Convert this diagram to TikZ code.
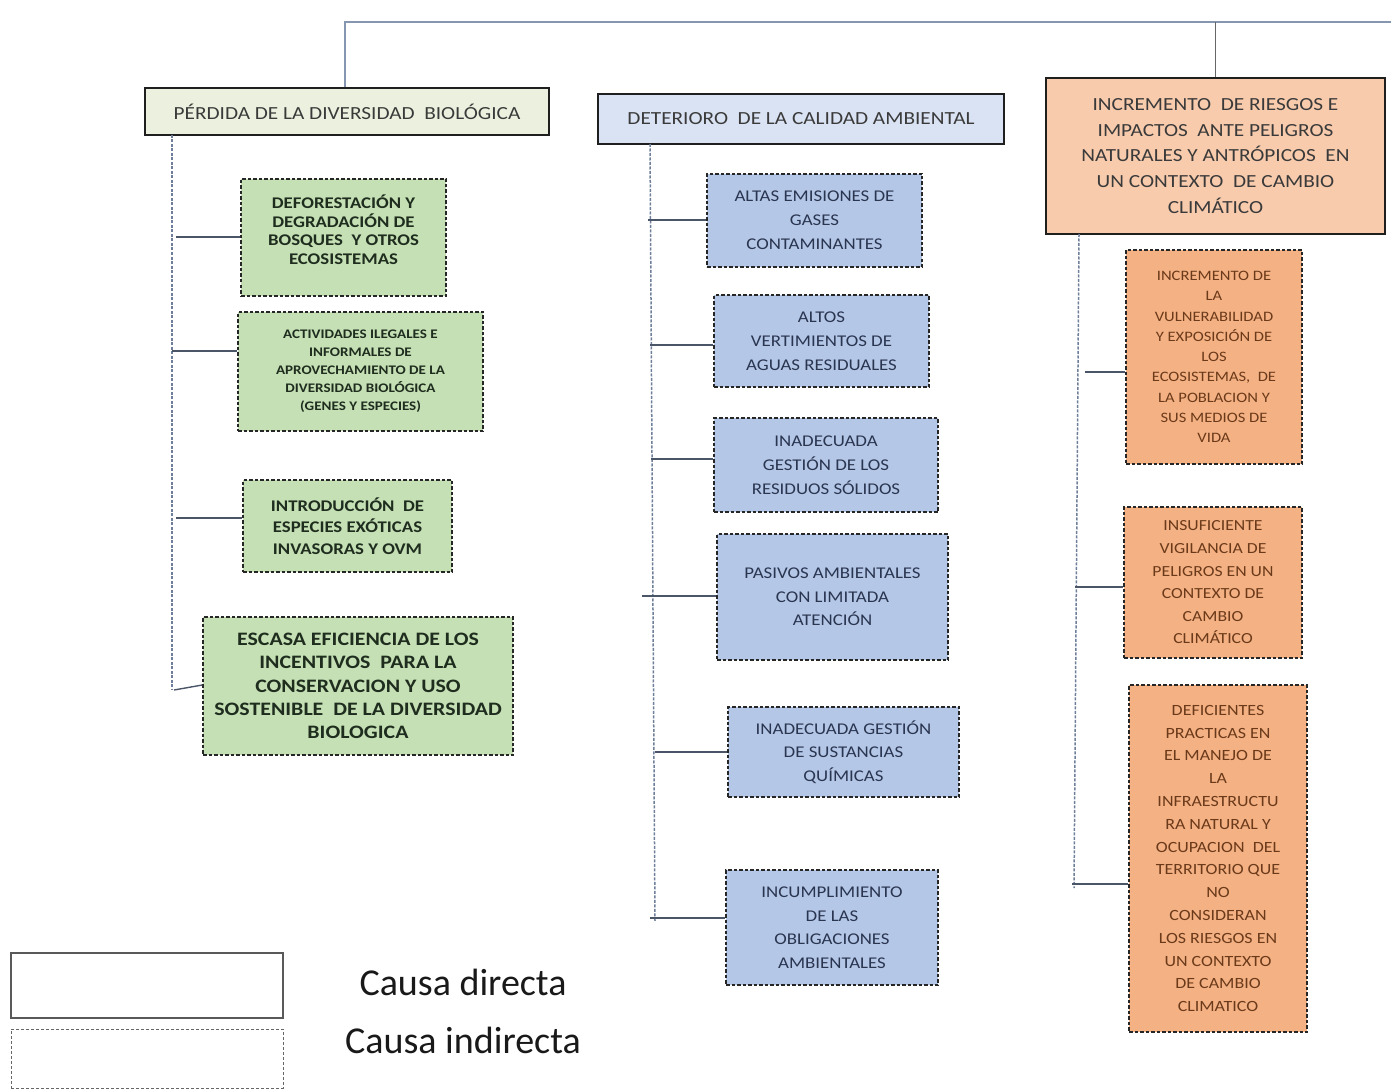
\documentclass[tikz,border=0pt]{standalone}
\usepackage{fontspec}
\usetikzlibrary{calc}
\setmainfont{Carlito}
\newfontfamily\boxfont{Carlito}[FakeStretch=1.15]
\definecolor{gHead}{HTML}{EBF1DE}
\definecolor{gFill}{HTML}{C5E0B4}
\definecolor{gText}{HTML}{1F2D1F}
\definecolor{bHead}{HTML}{DAE3F3}
\definecolor{bFill}{HTML}{B4C7E7}
\definecolor{bText}{HTML}{2A3550}
\definecolor{oHead}{HTML}{F8CBAD}
\definecolor{oFill}{HTML}{F4B183}
\definecolor{oText}{HTML}{6B3A1A}
\definecolor{hText}{HTML}{3A3A3A}
\definecolor{topLine}{HTML}{8496B0}
\definecolor{brLine}{HTML}{4A5568}
\definecolor{spLine}{HTML}{6F7F99}
\tikzset{
  headbox/.style={rectangle, draw=black!88, line width=1.8pt, inner sep=0pt, align=center},
  causebox/.style={rectangle, draw=black!85, line width=1.4pt, dash pattern=on 3.5pt off 2pt, inner sep=0pt, align=center},
  legsolid/.style={rectangle, draw=black!65, line width=1.2pt, inner sep=0pt},
  legdash/.style={rectangle, draw=black!60, line width=1pt, dash pattern=on 3pt off 2pt, inner sep=0pt},
  topwire/.style={draw=topLine, line width=1.8pt},
  upwire/.style={draw=black!60, line width=1.4pt},
  branch/.style={draw=brLine, line width=1.4pt},
  spine/.style={draw=spLine, line width=1.5pt, dash pattern=on 3pt off 1.5pt},
  legtext/.style={font=\fontsize{38}{42}\selectfont, text=black!90, inner sep=0pt}
}
\begin{document}
\begin{tikzpicture}[x=1pt,y=-1pt]
\useasboundingbox (0,0) rectangle (1391,1091);

% ---------- heads ----------
\node[headbox, fill=gHead, text=hText, minimum width=404pt, minimum height=47pt,
  font={\boxfont\fontsize{18.5}{24}\selectfont}] (p1) at (347,111.5)
  {PÉRDIDA DE LA DIVERSIDAD~~BIOLÓGICA};
\node[headbox, fill=bHead, text=hText, minimum width=406pt, minimum height=50pt,
  font={\boxfont\fontsize{18.5}{24}\selectfont}] (p2) at (801,119)
  {DETERIORO~~DE LA CALIDAD AMBIENTAL};
\node[headbox, fill=oHead, text=hText, minimum width=339pt, minimum height=156pt,
  font={\boxfont\fontsize{18.5}{25.7}\selectfont}] (p3) at (1215.5,156)
  {INCREMENTO~~DE RIESGOS E\\IMPACTOS~~ANTE PELIGROS\\NATURALES Y ANTRÓPICOS~~EN\\UN CONTEXTO~~DE CAMBIO\\CLIMÁTICO};

% ---------- column 1 ----------
\node[causebox, fill=gFill, text=gText, minimum width=205pt, minimum height=117pt, text depth=16pt,
  font={\boxfont\bfseries\fontsize{16.3}{18.6}\selectfont}] (a1) at (343.5,237.5)
  {DEFORESTACIÓN Y\\DEGRADACIÓN DE\\BOSQUES~~Y OTROS\\ECOSISTEMAS};
\node[causebox, fill=gFill, text=gText, minimum width=245pt, minimum height=119pt,
  font={\boxfont\bfseries\fontsize{13.1}{18}\selectfont}] (a2) at (360.5,371.5)
  {ACTIVIDADES ILEGALES E\\INFORMALES DE\\APROVECHAMIENTO DE LA\\DIVERSIDAD BIOLÓGICA\\(GENES Y ESPECIES)};
\node[causebox, fill=gFill, text=gText, minimum width=209pt, minimum height=92pt,
  font={\boxfont\bfseries\fontsize{16.3}{21.5}\selectfont}] (a3) at (347.5,526)
  {INTRODUCCIÓN~~DE\\ESPECIES EXÓTICAS\\INVASORAS Y OVM};
\node[causebox, fill=gFill, text=gText, minimum width=310pt, minimum height=138pt,
  font={\boxfont\bfseries\fontsize{19}{23.3}\selectfont}] (a4) at (358,686)
  {ESCASA EFICIENCIA DE LOS\\INCENTIVOS~~PARA LA\\CONSERVACION Y USO\\SOSTENIBLE~~DE LA DIVERSIDAD\\BIOLOGICA};

% ---------- column 2 ----------
\node[causebox, fill=bFill, text=bText, minimum width=215pt, minimum height=93pt,
  font={\boxfont\fontsize{16.4}{24}\selectfont}] (b1) at (814.5,220.5)
  {ALTAS EMISIONES DE\\GASES\\CONTAMINANTES};
\node[causebox, fill=bFill, text=bText, minimum width=215pt, minimum height=92pt,
  font={\boxfont\fontsize{16.4}{24}\selectfont}] (b2) at (821.5,341)
  {ALTOS\\VERTIMIENTOS DE\\AGUAS RESIDUALES};
\node[causebox, fill=bFill, text=bText, minimum width=224pt, minimum height=94pt,
  font={\boxfont\fontsize{16.4}{24}\selectfont}] (b3) at (826,465)
  {INADECUADA\\GESTIÓN DE LOS\\RESIDUOS SÓLIDOS};
\node[causebox, fill=bFill, text=bText, minimum width=231pt, minimum height=126pt,
  font={\boxfont\fontsize{16.4}{23.5}\selectfont}] (b4) at (832.5,597)
  {PASIVOS AMBIENTALES\\CON LIMITADA\\ATENCIÓN};
\node[causebox, fill=bFill, text=bText, minimum width=231pt, minimum height=90pt,
  font={\boxfont\fontsize{16.4}{23.5}\selectfont}] (b5) at (843.5,752)
  {INADECUADA GESTIÓN\\DE SUSTANCIAS\\QUÍMICAS};
\node[causebox, fill=bFill, text=bText, minimum width=212pt, minimum height=115pt,
  font={\boxfont\fontsize{16.4}{23.5}\selectfont}] (b6) at (832,927.5)
  {INCUMPLIMIENTO\\DE LAS\\OBLIGACIONES\\AMBIENTALES};

% ---------- column 3 ----------
\node[causebox, fill=oFill, text=oText, minimum width=176pt, minimum height=214pt,
  font={\boxfont\fontsize{14.4}{20.3}\selectfont}] (c1) at (1214,357)
  {INCREMENTO DE\\LA\\VULNERABILIDAD\\Y EXPOSICIÓN DE\\LOS\\ECOSISTEMAS,~~DE\\LA POBLACION Y\\SUS MEDIOS DE\\VIDA};
\node[causebox, fill=oFill, text=oText, minimum width=178pt, minimum height=151pt,
  font={\boxfont\fontsize{15.4}{22.6}\selectfont}] (c2) at (1213,582.5)
  {INSUFICIENTE\\VIGILANCIA DE\\PELIGROS EN UN\\CONTEXTO DE\\CAMBIO\\CLIMÁTICO};
\node[causebox, fill=oFill, text=oText, minimum width=178pt, minimum height=347pt,
  font={\boxfont\fontsize{15.6}{22.8}\selectfont}] (c3) at (1218,858.5)
  {DEFICIENTES\\PRACTICAS EN\\EL MANEJO DE\\LA\\INFRAESTRUCTU\\RA NATURAL Y\\OCUPACION~~DEL\\TERRITORIO QUE\\NO\\CONSIDERAN\\LOS RIESGOS EN\\UN CONTEXTO\\DE CAMBIO\\CLIMATICO};

% ---------- top wiring ----------
\coordinate (tr) at (1391,22);
\draw[topwire] (p1.north -| 345,0) |- (tr);
\draw[upwire] (p3.north) -- (p3.north |- tr);

% ---------- spines ----------
\coordinate (s1t) at (172,135);  \coordinate (s1b) at (172,690);
\coordinate (s2t) at (650,144);  \coordinate (s2b) at (655,922);
\coordinate (s3t) at (1079,234); \coordinate (s3b) at (1074,888);
\draw[spine] (s1t) -- (s1b);
\draw[spine] (s2t) -- (s2b);
\draw[spine] (s3t) -- (s3b);

% column 1 branches
\coordinate (k1) at (176,237);
\coordinate (k2) at (172,351);
\coordinate (k3) at (176,518);
\coordinate (k4) at (174,690);
\draw[branch] (k1) -- (k1 -| a1.west);
\draw[branch] (k2) -- (k2 -| a2.west);
\draw[branch] (k3) -- (k3 -| a3.west);
\draw[branch] (k4) -- ($(a4.west)+(0,-1)$);

% column 2 branches
\coordinate (m1) at (648,220);
\coordinate (m2) at (650,345);
\coordinate (m3) at (651,459);
\coordinate (m4) at (642,596);
\coordinate (m5) at (655,752);
\coordinate (m6) at (650,918);
\draw[branch] (m1) -- (m1 -| b1.west);
\draw[branch] (m2) -- (m2 -| b2.west);
\draw[branch] (m3) -- (m3 -| b3.west);
\draw[branch] (m4) -- (m4 -| b4.west);
\draw[branch] (m5) -- (m5 -| b5.west);
\draw[branch] (m6) -- (m6 -| b6.west);

% column 3 branches
\coordinate (n1) at (1085,372);
\coordinate (n2) at (1075,587);
\coordinate (n3) at (1072,884);
\draw[branch] (n1) -- (n1 -| c1.west);
\draw[branch] (n2) -- (n2 -| c2.west);
\draw[branch] (n3) -- (n3 -| c3.west);

% ---------- legend ----------
\node[legsolid, minimum width=272pt, minimum height=65pt] (l1) at (147,985.5) {};
\node[legdash, minimum width=272pt, minimum height=59pt] (l2) at (147,1058.5) {};
\node[legtext] (t1) at (463,982) {Causa directa};
\node[legtext] (t2) at (463,1040) {Causa indirecta};
\end{tikzpicture}
\end{document}
